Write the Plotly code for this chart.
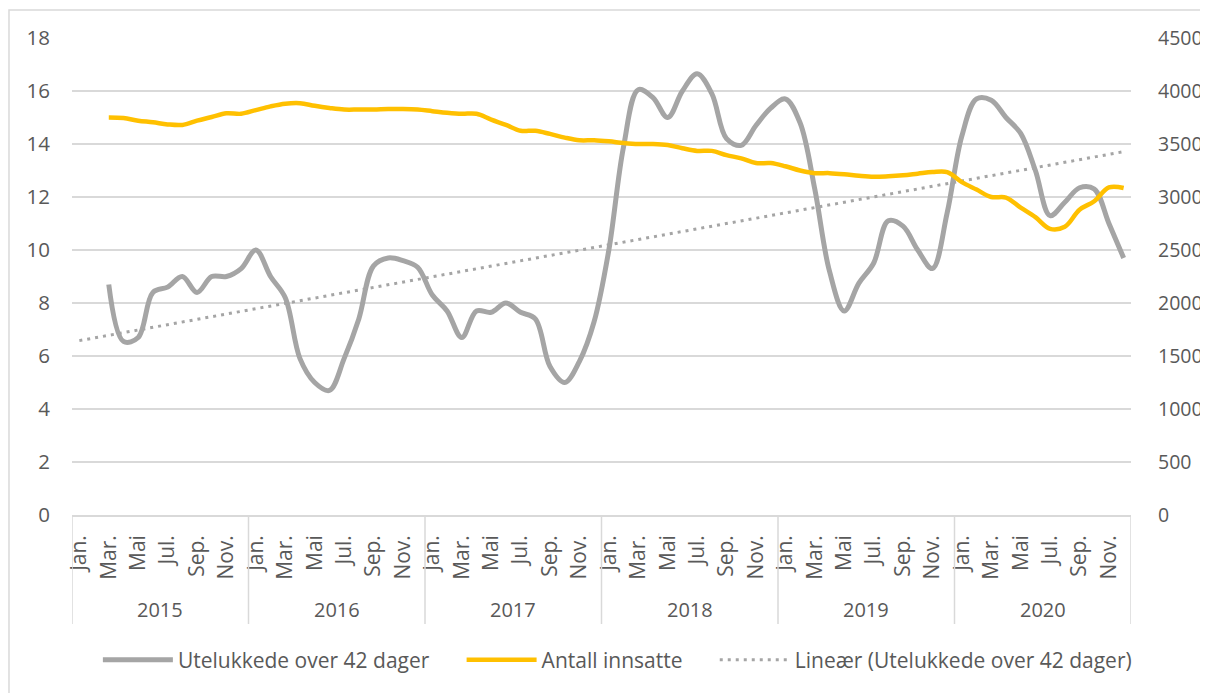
import numpy as np
import plotly.graph_objects as go

years = ["2015", "2016", "2017", "2018", "2019", "2020"]
month_labels = ["Jan.", "", "Mar.", "", "Mai", "", "Jul.", "", "Sep.", "", "Nov.", ""]

# Utelukkede over 42 dager (left axis), Jan 2015 - Dec 2020
utelukkede = [
    None, None, 8.7, 6.55, 6.7, 8.4, 8.6, 9.0, 8.4, 9.0, 9.0, 9.3,
    10.0, 9.0, 8.2, 5.9, 5.0, 4.7, 5.9, 7.4, 9.4, 9.7, 9.6, 9.35,
    8.3, 7.7, 6.7, 7.7, 7.65, 8.0, 7.65, 7.4, 5.6, 5.0, 5.8, 7.3,
    10.0, 13.9, 16.05, 15.75, 15.0, 16.0, 16.65, 15.9, 14.2, 13.95, 14.7, 15.35,
    15.7, 14.8, 12.3, 9.2, 7.7, 8.75, 9.5, 11.1, 10.9, 10.0, 9.3, 11.4,
    14.3, 15.7, 15.65, 15.0, 14.4, 13.0, 11.3, 11.8, 12.35, 12.3, 11.0, 9.7,
]

# Antall innsatte (right axis)
innsatte = [
    None, None, 3750, 3745, 3720, 3705, 3685, 3680, 3720, 3755, 3790, 3785,
    3820, 3855, 3880, 3885, 3860, 3840, 3825, 3825, 3825, 3830, 3830, 3825,
    3810, 3795, 3785, 3785, 3730, 3680, 3625, 3625, 3595, 3560, 3535, 3535,
    3525, 3510, 3500, 3500, 3490, 3460, 3435, 3435, 3395, 3365, 3320, 3320,
    3290, 3250, 3225, 3225, 3215, 3200, 3190, 3195, 3205, 3220, 3235, 3235,
    3140, 3070, 3000, 2995, 2900, 2810, 2700, 2720, 2880, 2960, 3090, 3085,
]

# Excel linear trendline, read at first (Jan 2015) and last (Dec 2020) month
trend_values = [6.58, 13.71]

GRAY = "#A5A5A5"
YELLOW = "#FFC000"
GRID = "#D9D9D9"
TEXT = "#595959"
GAP = "\u00a0" * 5  # extra room between legend entries, like Excel

x = np.arange(len(utelukkede))

fig = go.Figure()
fig.add_trace(go.Scatter(
    x=x, y=utelukkede, name="Utelukkede over 42 dager" + GAP, mode="lines",
    line={"color": GRAY, "width": 5, "shape": "spline", "smoothing": 1},
))
fig.add_trace(go.Scatter(
    x=x, y=innsatte, name="Antall innsatte" + GAP, mode="lines", yaxis="y2",
    line={"color": YELLOW, "width": 4.5, "shape": "spline", "smoothing": 1},
))
fig.add_trace(go.Scatter(
    x=[x[0], x[-1]], y=trend_values, name="Lineær (Utelukkede over 42 dager)", mode="lines",
    line={"color": GRAY, "width": 3, "dash": "3px,5px"},
))

tickvals = [i for i in x if month_labels[i % 12]]
ticktext = [month_labels[i % 12] for i in tickvals]

shapes = []
for k in range(len(years) + 1):
    shapes.append(dict(
        type="line", xref="x", yref="paper", x0=k * 12 - 0.5, x1=k * 12 - 0.5,
        y0=0, y1=-0.2285, line={"color": GRID, "width": 1.5},
    ))
# chart border
shapes.append(dict(
    type="rect", xref="paper", yref="paper", x0=-0.0595, x1=1.08, y0=-0.4, y1=1.0587,
    line={"color": GRID, "width": 1.5},
))

annotations = [
    dict(text=yr, x=k * 12 + 5.5, xref="x", y=-0.199, yref="paper", showarrow=False,
         yanchor="middle", font={"size": 20, "color": TEXT})
    for k, yr in enumerate(years)
]

# page body has an 8px margin, so the figure is 8px smaller and margins shifted
fig.update_layout(
    width=1200, height=685,
    margin={"l": 64, "r": 77, "t": 30, "b": 178, "autoexpand": False},
    paper_bgcolor="white", plot_bgcolor="white",
    font={"family": "Open Sans, sans-serif", "size": 20, "color": TEXT},
    showlegend=True,
    legend={"orientation": "h", "x": 0.515, "xanchor": "center", "y": -0.304, "yanchor": "middle",
            "itemwidth": 70, "font": {"size": 21, "color": TEXT}},
    shapes=shapes,
    annotations=annotations,
    xaxis={"range": [-0.5, 71.5], "tickmode": "array", "tickvals": tickvals, "ticktext": ticktext,
           "tickangle": -90, "showgrid": False, "zeroline": False, "showline": True,
           "linecolor": GRID, "linewidth": 1.5, "ticks": "", "ticklabelstandoff": 10,
           "tickfont": {"size": 21}, "automargin": False},
    yaxis={"range": [0, 18], "dtick": 2, "showgrid": True, "gridcolor": GRID, "gridwidth": 1.5,
           "zeroline": False, "ticks": "", "ticklabelstandoff": 21, "tickfont": {"size": 20.5},
           "automargin": False},
    yaxis2={"range": [0, 4500], "dtick": 500, "overlaying": "y", "side": "right", "showgrid": False,
            "zeroline": False, "ticks": "", "ticklabelstandoff": 26, "tickfont": {"size": 19.5},
            "automargin": False},
)

fig.write_html("out.html")
